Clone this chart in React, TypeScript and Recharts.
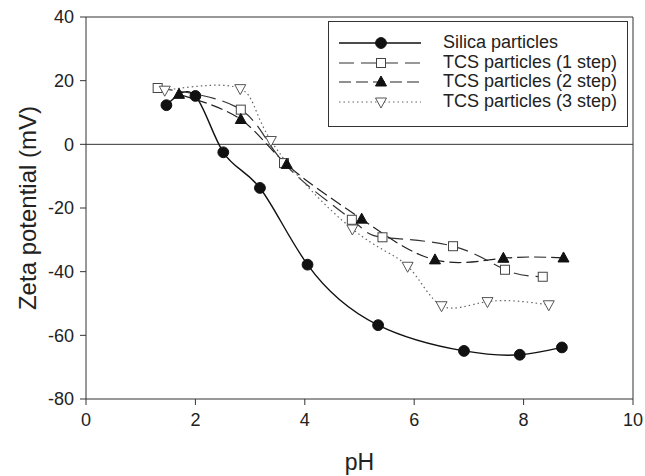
import { LineChart, Line, XAxis, YAxis, ReferenceLine, Legend, Label } from "recharts";

const silicaX = [1.47, 2.0, 2.51, 3.18, 4.05, 5.34, 6.91, 7.93, 8.7];
const silicaY = [12.3, 15.2, -2.5, -13.7, -37.8, -56.8, -64.9, -66.1, -63.8];

const step1X = [1.31, 2.83, 3.62, 4.86, 5.42, 6.71, 7.66, 8.35];
const step1Y = [17.7, 10.9, -5.9, -23.7, -29.2, -32.0, -39.4, -41.6];

const step2X = [1.7, 2.83, 3.67, 5.04, 6.38, 7.63, 8.73];
const step2Y = [15.7, 7.8, -6.3, -23.5, -36.3, -35.8, -35.7];

const step3X = [1.44, 2.82, 3.38, 4.87, 5.88, 6.5, 7.34, 8.46];
const step3Y = [17.0, 17.5, 1.2, -26.6, -38.3, -50.7, -49.4, -50.4];

const xTicks = [0, 2, 4, 6, 8, 10];
const yTicks = [-80, -60, -40, -20, 0, 20, 40];

const FONT = "'Liberation Sans', Arial, sans-serif";
const INK = "#222";

const toPoints = (xs: number[], ys: number[]) => xs.map((x, i) => ({ x, y: ys[i] }));

type Marker = "circle" | "square" | "triangle" | "invTriangle";

function markerShape(kind: Marker, cx: number, cy: number, key?: string | number) {
  if (kind === "circle") return <circle key={key} cx={cx} cy={cy} r={5.4} fill="#111" stroke="#111" />;
  if (kind === "square")
    return <rect key={key} x={cx - 4.5} y={cy - 4.5} width={9} height={9} fill="#fff" stroke="#444" strokeWidth={1} />;
  if (kind === "triangle")
    return <path key={key} d={`M${cx},${cy - 6} L${cx + 5.5},${cy + 4} L${cx - 5.5},${cy + 4} Z`} fill="#111" stroke="#111" />;
  return (
    <path key={key} d={`M${cx - 5.5},${cy - 4} L${cx + 5.5},${cy - 4} L${cx},${cy + 6} Z`} fill="#fff" stroke="#555" strokeWidth={1} />
  );
}

const SERIES = [
  { name: "Silica particles", data: toPoints(silicaX, silicaY), marker: "circle" as Marker, dash: undefined, color: "#111", width: 1.4 },
  { name: "TCS particles (1 step)", data: toPoints(step1X, step1Y), marker: "square" as Marker, dash: "15 7", color: "#333", width: 1.2 },
  { name: "TCS particles (2 step)", data: toPoints(step2X, step2Y), marker: "triangle" as Marker, dash: "12 5", color: "#222", width: 1.2 },
  { name: "TCS particles (3 step)", data: toPoints(step3X, step3Y), marker: "invTriangle" as Marker, dash: "1.5 3", color: "#666", width: 1.2 },
];

function LegendBox() {
  return (
    <div style={{ border: "1px solid #333", background: "#fff", padding: "11px 0 14px 0", fontFamily: FONT, fontSize: 18, color: INK }}>
      {SERIES.map((s) => (
        <div key={s.name} style={{ display: "flex", alignItems: "center", height: 19.7 }}>
          <svg width={114} height={19.7} style={{ flex: "none" }}>
            <line x1={10} x2={92} y1={10} y2={10} stroke={s.color} strokeWidth={s.width} strokeDasharray={s.dash} />
            {markerShape(s.marker, 52, 10)}
          </svg>
          <span style={{ lineHeight: "19.7px" }}>{s.name}</span>
        </div>
      ))}
    </div>
  );
}

export default function App() {
  return (
    <div style={{ position: "absolute", left: 0, top: 0, width: 645, height: 476, background: "#fff" }}>
      <LineChart width={645} height={476} margin={{ top: 17, right: 12, bottom: 17, left: 0 }}>
        <XAxis
          type="number"
          dataKey="x"
          domain={[0, 10]}
          ticks={xTicks}
          height={60}
          allowDataOverflow
          stroke="#333"
          tickSize={6}
          tickMargin={8}
          tick={{ fontSize: 18, fill: INK, fontFamily: FONT }}
        >
          <Label
            content={({ viewBox }: any) => (
              <text
                x={viewBox.x + viewBox.width / 2}
                y={viewBox.y + 71}
                textAnchor="middle"
                fontSize={23}
                fontFamily={FONT}
                fill={INK}
              >
                pH
              </text>
            )}
          />
        </XAxis>
        <YAxis
          type="number"
          dataKey="y"
          domain={[-80, 40]}
          ticks={yTicks}
          width={86}
          allowDataOverflow
          stroke="#333"
          tickSize={6}
          tickMargin={6}
          tick={{ fontSize: 18, fill: INK, fontFamily: FONT }}
        >
          <Label
            content={({ viewBox }: any) => {
              const cx = viewBox.x + 27;
              const cy = viewBox.y + viewBox.height / 2;
              return (
                <text
                  x={cx}
                  y={cy}
                  transform={`rotate(-90, ${cx}, ${cy})`}
                  textAnchor="middle"
                  dominantBaseline="central"
                  fontSize={24}
                  fontFamily={FONT}
                  fill={INK}
                >
                  Zeta potential (mV)
                </text>
              );
            }}
          />
        </YAxis>
        <ReferenceLine y={0} stroke="#333" strokeWidth={1} />
        <ReferenceLine y={40} stroke="#333" strokeWidth={1} />
        <ReferenceLine x={10} stroke="#333" strokeWidth={1} />
        {SERIES.map((s) => (
          <Line
            key={s.name}
            name={s.name}
            data={s.data}
            dataKey="y"
            type="natural"
            stroke={s.color}
            strokeWidth={s.width}
            strokeDasharray={s.dash}
            isAnimationActive={false}
            dot={(p: any) => markerShape(s.marker, p.cx, p.cy, `${s.name}-${p.index}`)}
            activeDot={false}
          />
        ))}
        <Legend
          layout="horizontal"
          verticalAlign="middle"
          content={<LegendBox />}
          wrapperStyle={{ position: "absolute", top: 21, left: 328, right: "auto", bottom: "auto", width: 300 }}
        />
      </LineChart>
    </div>
  );
}
